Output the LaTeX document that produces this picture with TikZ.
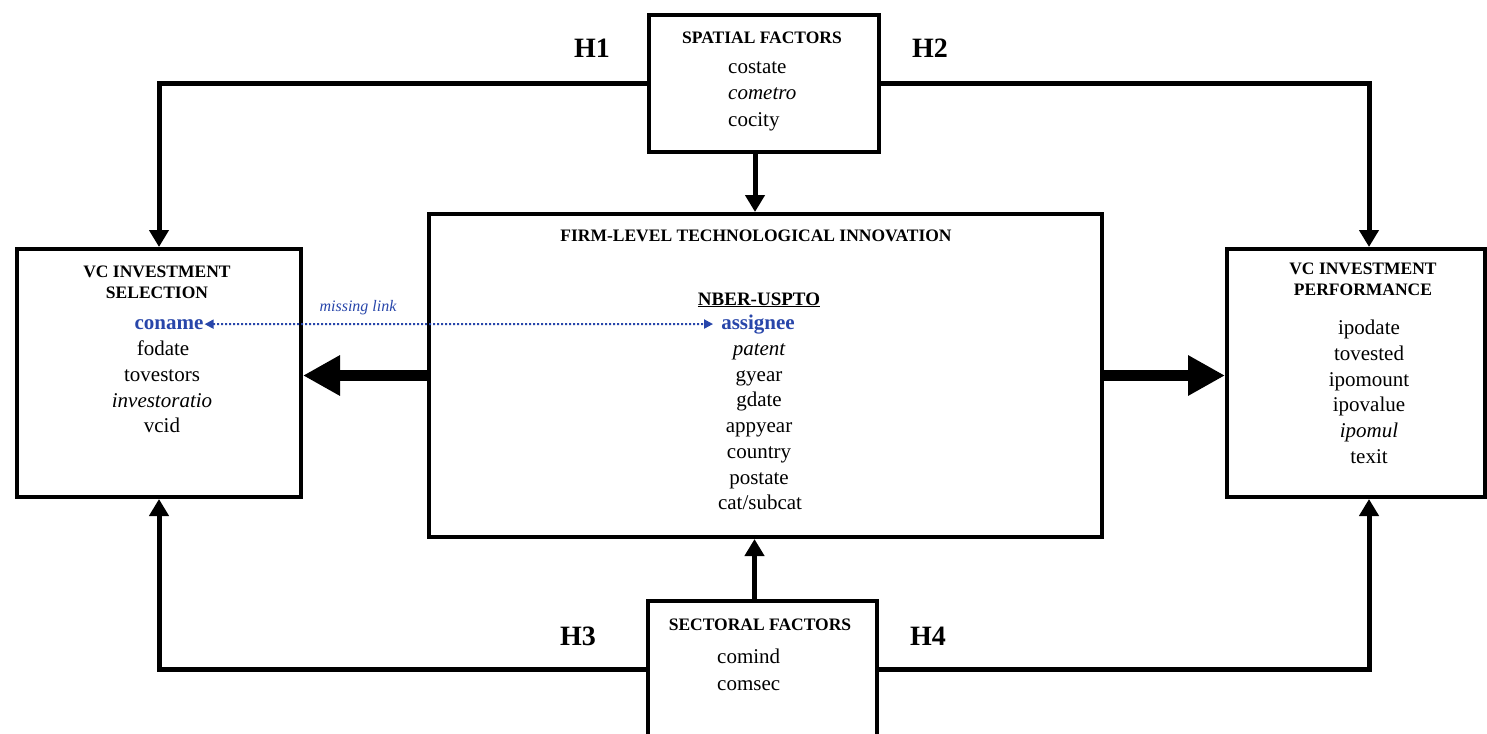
\documentclass[tikz,border=0pt]{standalone}
\usepackage{fontspec}
\setmainfont{Liberation Serif}
\usetikzlibrary{arrows.meta}
\definecolor{linkblue}{RGB}{40,70,170}
\tikzset{
  x=1pt,y=-1pt,
  box/.style={draw,line width=4pt,anchor=north west,inner sep=0pt},
  head/.style={font=\fontsize{17.5}{21}\selectfont\bfseries,align=center,inner sep=0pt},
  item/.style={font=\fontsize{21}{25.7}\selectfont,align=center,inner sep=0pt,anchor=base},
  hlab/.style={font=\fontsize{28}{30}\selectfont\bfseries,inner sep=0pt},
  conn/.style={line width=5pt,-{Triangle[length=17pt,width=19pt]}},
  thick/.style={line width=11pt,-{Triangle[length=37pt,width=38pt]}},
}
\begin{document}
\begin{tikzpicture}
\useasboundingbox (0,0) rectangle (1487,733);
% boxes
\node[box,minimum width=230,minimum height=137] (spatial) at (647,13) {};
\node[box,minimum width=229,minimum height=136] (sectoral) at (646,599) {};
\node[box,minimum width=673,minimum height=323] (firm) at (427,212) {};
\node[box,minimum width=284,minimum height=248] (vcsel) at (15,247) {};
\node[box,minimum width=258,minimum height=248] (vcperf) at (1225,247) {};
% spatial text
\node[head] (sph) at (762,38) {SPATIAL FACTORS};
\node[item,anchor=base west] (sp1) at (728,74) {costate};
\node[item,anchor=base west] (sp2) at (728,100) {\itshape cometro};
\node[item,anchor=base west] (sp3) at (728,126) {cocity};
% sectoral text
\node[head] (seh) at (760,625) {SECTORAL FACTORS};
\node[item,anchor=base west] (se1) at (717,663) {comind};
\node[item,anchor=base west] (se2) at (717,690) {comsec};
% firm text
\node[head] (fh) at (756,236) {FIRM-LEVEL TECHNOLOGICAL INNOVATION};
\node[item,font=\fontsize{19}{22}\selectfont\bfseries] (nber) at (759,305) {\underline{NBER-USPTO}};
\node[item,font=\fontsize{21}{25}\selectfont\bfseries,text=linkblue] (assignee) at (758,329) {assignee};
\node[item] (f1) at (759,355) {\itshape patent};
\node[item] (f2) at (759,381) {gyear};
\node[item] (f3) at (759,406) {gdate};
\node[item] (f4) at (759,432) {appyear};
\node[item] (f5) at (759,458) {country};
\node[item] (f6) at (759,484) {postate};
\node[item] (f7) at (760,509) {cat/subcat};
% VC selection text
\node[head] (vsh) at (157,282) {VC INVESTMENT\\SELECTION};
\node[item,font=\fontsize{21}{25}\selectfont\bfseries,text=linkblue] (coname) at (169,329) {coname};
\node[item] (v1) at (163,355) {fodate};
\node[item] (v2) at (162,381) {tovestors};
\node[item] (v3) at (162,407) {\itshape investoratio};
\node[item] (v4) at (162,432) {vcid};
% VC performance text
\node[head] (vph) at (1363,279) {VC INVESTMENT\\PERFORMANCE};
\node[item] (p1) at (1369,334) {ipodate};
\node[item] (p2) at (1369,360) {tovested};
\node[item] (p3) at (1369,386) {ipomount};
\node[item] (p4) at (1369,411) {ipovalue};
\node[item] (p5) at (1369,437) {\itshape ipomul};
\node[item] (p6) at (1369,463) {texit};
% hypothesis labels
\node[hlab] (h1) at (592,48) {H1};
\node[hlab] (h2) at (930,48) {H2};
\node[hlab] (h3) at (578,636) {H3};
\node[hlab] (h4) at (928,636) {H4};
% connectors
\coordinate (perfin) at ([xshift=13pt]vcperf.north);
\coordinate (perfinb) at ([xshift=13pt]vcperf.south);
\draw[conn] (spatial.west) -| (vcsel.north);
\draw[conn] (spatial.east) -| (perfin);
\draw[conn] (sectoral.west) -| (vcsel.south);
\draw[conn] (sectoral.east) -| (perfinb);
\draw[conn] ([xshift=-9pt]spatial.south) -- ([xshift=-9pt]spatial.south |- firm.north);
\draw[conn] ([xshift=-8pt]sectoral.north) -- ([xshift=-8pt]sectoral.north |- firm.south);
\draw[thick] (firm.west) -- (firm.west -| vcsel.east);
\draw[thick] (firm.east) -- (firm.east -| vcperf.west);
% missing link
\draw[linkblue,line width=2pt,dotted,{Triangle[length=9pt,width=9pt]}-{Triangle[length=9pt,width=9pt]}] ([xshift=1pt]coname.east) -- ([xshift=-8pt]assignee.west);
\node[font=\fontsize{16}{18}\selectfont\itshape,text=linkblue,inner sep=0pt] (ml) at (358,308) {missing link};
\end{tikzpicture}
\end{document}
